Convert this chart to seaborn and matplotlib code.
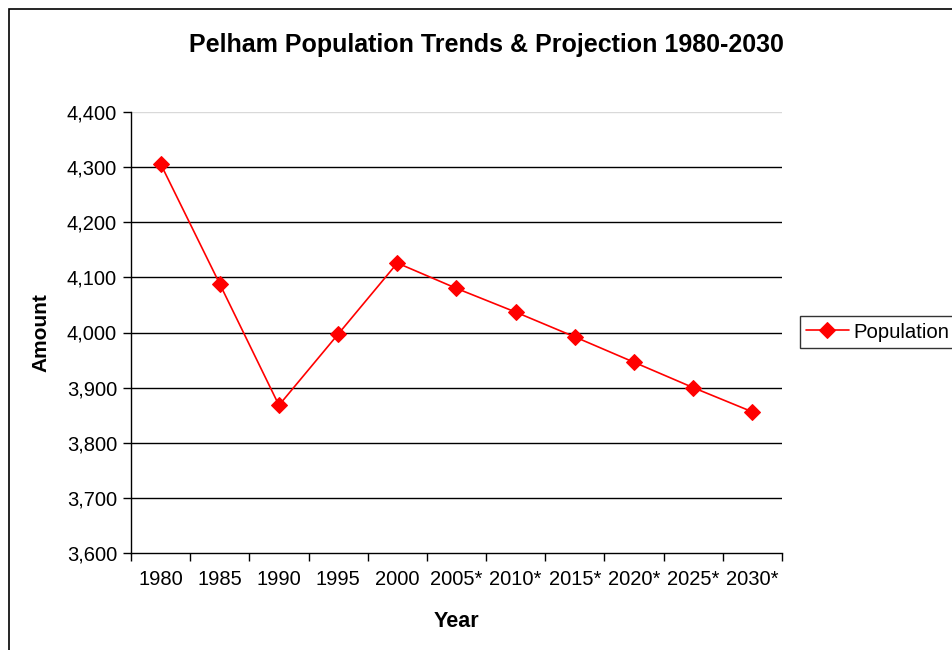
import matplotlib
matplotlib.use("Agg")
import matplotlib.pyplot as plt
import matplotlib.ticker as mticker
from matplotlib.patches import Rectangle
import seaborn as sns
import pandas as pd

# Population by year (asterisk marks projected values)
years = ["1980", "1985", "1990", "1995", "2000", "2005*", "2010*",
         "2015*", "2020*", "2025*", "2030*"]
population = [4306, 4088, 3868, 3997, 4126, 4080, 4037, 3992, 3946, 3900, 3856]
y_ticks = [3600, 3700, 3800, 3900, 4000, 4100, 4200, 4300, 4400]

df = pd.DataFrame({"Year": years, "Population": population})

sns.set_theme(style="white")
plt.rcParams["font.family"] = ["Liberation Sans", "DejaVu Sans"]
plt.rcParams["text.color"] = "black"
plt.rcParams["axes.labelcolor"] = "black"

fig = plt.figure(figsize=(9.53, 6.5), dpi=100)
ax = fig.add_axes([131 / 953, 1 - 553 / 650, 651 / 953, 441 / 650])

sns.lineplot(data=df, x="Year", y="Population", sort=False, ax=ax,
             color="#ff0000", marker="D", markersize=8, markeredgecolor="#ff0000",
             linewidth=1.2, label="Population")

ax.set_xlim(-0.5, len(years) - 0.5)
ax.set_ylim(y_ticks[0], y_ticks[-1])
ax.set_yticks(y_ticks)
ax.yaxis.set_major_formatter(mticker.FuncFormatter(lambda v, p: f"{int(v):,}"))

# category boundaries carry the tick marks, labels sit between them
ax.set_xticks(range(len(years)))
ax.set_xticklabels(years)
ax.set_xticks([i - 0.5 for i in range(len(years) + 1)], minor=True)
ax.tick_params(axis="x", which="major", length=0, pad=12, labelsize=14.5,
               colors="black")
ax.tick_params(axis="x", which="minor", length=6, width=1, direction="out",
               color="black", bottom=True)
ax.tick_params(axis="y", which="major", length=6, width=1, direction="out",
               left=True, pad=4, labelsize=14.5, colors="black")

# horizontal gridlines
for v in y_ticks[1:]:
    ax.axhline(v, color="#d9d9d9" if v == y_ticks[-1] else "#000000",
               linewidth=1, zorder=0)

for side in ("top", "right"):
    ax.spines[side].set_visible(False)
for side in ("left", "bottom"):
    ax.spines[side].set_color("black")
    ax.spines[side].set_linewidth(1)

ax.set_xlabel("Year", fontsize=15.5, fontweight="bold", labelpad=16)
ax.set_ylabel("Amount", fontsize=15, fontweight="bold", labelpad=12)
fig.text(0.5 * (187 + 786) / 953, 1 - 45 / 650,
         "Pelham Population Trends & Projection 1980-2030",
         ha="center", va="center", fontsize=18, fontweight="bold")

leg = ax.legend(loc="center left", bbox_to_anchor=(800 / 953, 1 - 332 / 650),
                bbox_transform=fig.transFigure, fontsize=14.6, frameon=True,
                fancybox=False, borderpad=0.3, handlelength=2.1,
                handletextpad=0.25, borderaxespad=0)
leg.get_frame().set_edgecolor("black")
leg.get_frame().set_linewidth(1)
for t in leg.get_texts():
    t.set_color("black")

# chart border
fig.patches.append(Rectangle((9 / 953, -0.1), 1.2, 1.1 - 9 / 650,
                             transform=fig.transFigure, fill=False,
                             edgecolor="black", linewidth=1.2))

fig.savefig("out.png", dpi=100, facecolor="white")
